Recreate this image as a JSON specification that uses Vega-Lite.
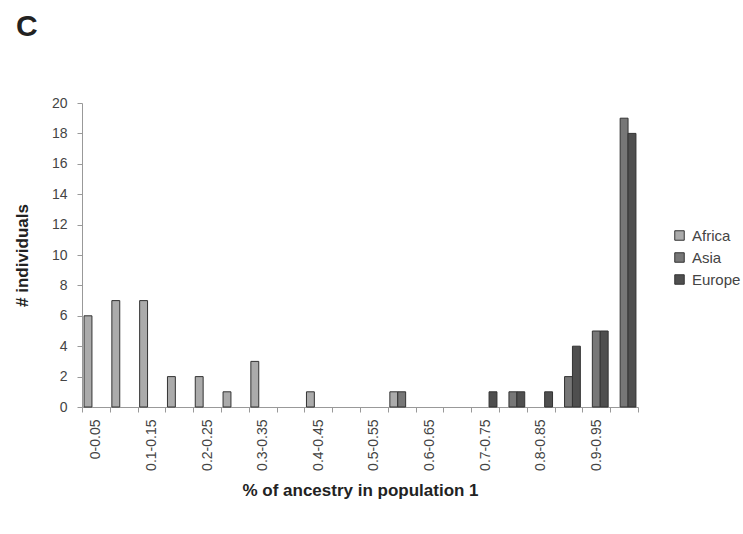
{
  "$schema": "https://vega.github.io/schema/vega-lite/v6.json",
  "width": 556,
  "height": 304,
  "autosize": "none",
  "padding": {"left": 82, "top": 103, "right": 105, "bottom": 127},
  "background": "white",
  "title": {"text": "C", "anchor": "start", "frame": "group", "fontSize": 30, "fontWeight": "bold", "font": "Liberation Sans", "dx": -66, "offset": 54, "color": "#222222"},
  "data": {"values": [
    {"bin": "0-0.05", "region": "Africa", "count": 6},
    {"bin": "0.05-0.1", "region": "Africa", "count": 7},
    {"bin": "0.1-0.15", "region": "Africa", "count": 7},
    {"bin": "0.15-0.2", "region": "Africa", "count": 2},
    {"bin": "0.2-0.25", "region": "Africa", "count": 2},
    {"bin": "0.25-0.3", "region": "Africa", "count": 1},
    {"bin": "0.3-0.35", "region": "Africa", "count": 3},
    {"bin": "0.4-0.45", "region": "Africa", "count": 1},
    {"bin": "0.55-0.6", "region": "Africa", "count": 1},
    {"bin": "0.55-0.6", "region": "Asia", "count": 1},
    {"bin": "0.75-0.8", "region": "Asia", "count": 1},
    {"bin": "0.85-0.9", "region": "Asia", "count": 2},
    {"bin": "0.9-0.95", "region": "Asia", "count": 5},
    {"bin": "0.95-1", "region": "Asia", "count": 19},
    {"bin": "0.7-0.75", "region": "Europe", "count": 1},
    {"bin": "0.75-0.8", "region": "Europe", "count": 1},
    {"bin": "0.8-0.85", "region": "Europe", "count": 1},
    {"bin": "0.85-0.9", "region": "Europe", "count": 4},
    {"bin": "0.9-0.95", "region": "Europe", "count": 5},
    {"bin": "0.95-1", "region": "Europe", "count": 18}
  ]},
  "mark": {"type": "bar", "stroke": "#333333", "strokeWidth": 1},
  "encoding": {
    "x": {
      "field": "bin", "type": "nominal",
      "scale": {
        "domain": ["0-0.05","0.05-0.1","0.1-0.15","0.15-0.2","0.2-0.25","0.25-0.3","0.3-0.35","0.35-0.4","0.4-0.45","0.45-0.5","0.5-0.55","0.55-0.6","0.6-0.65","0.65-0.7","0.7-0.75","0.75-0.8","0.8-0.85","0.85-0.9","0.9-0.95","0.95-1"],
        "paddingInner": 0, "paddingOuter": 0
      },
      "axis": {
        "title": "% of ancestry in population 1",
        "titleFontSize": 17, "titleFontWeight": "bold", "titleColor": "#222222", "titlePadding": 12,
        "labelAngle": -90, "labelFontSize": 14, "labelColor": "#444444", "labelPadding": 7,
        "labelOverlap": false,
        "labelExpr": "test(/^0\\.\\d5-/, datum.label) ? '' : datum.label",
        "tickBand": "extent", "tickSize": 5, "tickColor": "#999999", "domainColor": "#999999"
      }
    },
    "xOffset": {
      "field": "region", "type": "nominal", "sort": ["Africa", "Asia", "Europe"],
      "scale": {"domain": ["Africa", "Asia", "Europe"], "paddingInner": 0, "paddingOuter": 0.26}
    },
    "y": {
      "field": "count", "type": "quantitative",
      "scale": {"domain": [0, 20]},
      "axis": {
        "title": "# individuals", "titleFontSize": 17, "titleFontWeight": "bold", "titleColor": "#222222", "titlePadding": 20,
        "values": [0,2,4,6,8,10,12,14,16,18,20],
        "labelFontSize": 14, "labelColor": "#444444", "labelPadding": 10,
        "tickSize": 5, "tickColor": "#999999", "domainColor": "#999999", "grid": false
      }
    },
    "color": {
      "field": "region", "type": "nominal",
      "scale": {"domain": ["Africa", "Asia", "Europe"], "range": ["#ababab", "#777777", "#4f4f4f"]},
      "legend": {
        "title": null, "orient": "none", "legendX": 590, "legendY": 125,
        "symbolType": "square", "symbolSize": 90, "symbolStrokeColor": "#333333", "symbolStrokeWidth": 1,
        "labelFontSize": 15, "labelColor": "#444444", "rowPadding": 6, "labelOffset": 5, "padding": 0
      }
    }
  },
  "config": {"view": {"stroke": null}, "font": "Liberation Sans"}
}
